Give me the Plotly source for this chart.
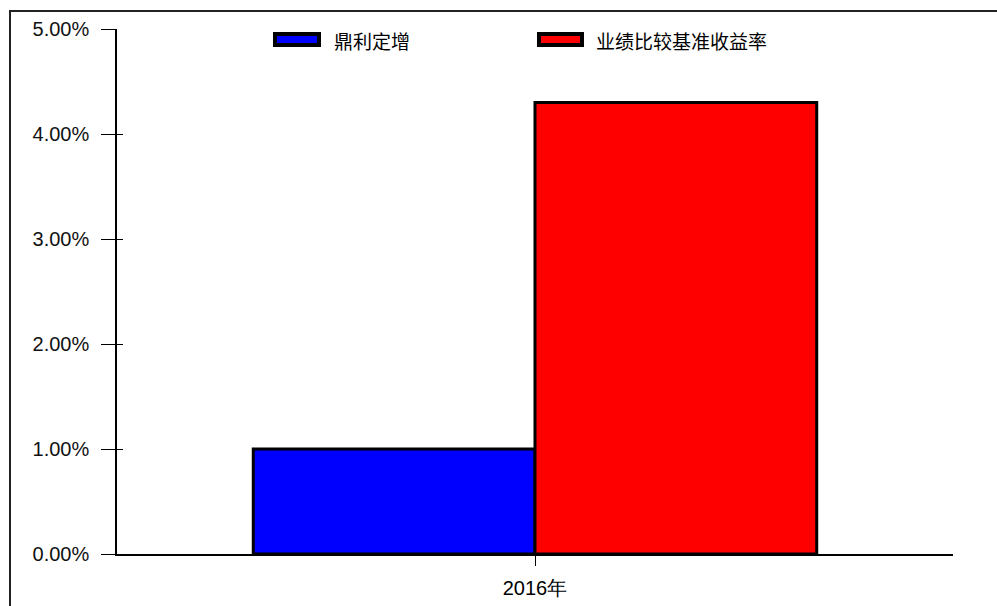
import plotly.graph_objects as go

categories = ["2016年"]
series_names = ["鼎利定增", "业绩比较基准收益率"]
fund_values = [0.0100]
benchmark_values = [0.0430]
series_colors = ["#0000FF", "#FF0000"]
y_tick_vals = [0.0, 0.01, 0.02, 0.03, 0.04, 0.05]

W, H = 997, 606
ML, MR, MT, MB = 117, 44, 29, 52
pw, ph = W - ML - MR, H - MT - MB

def px_x(x):
    return (x - ML) / pw

def px_y(y):
    return 1 - (y - MT) / ph

fig = go.Figure()
for name, vals, col in zip(series_names, [fund_values, benchmark_values], series_colors):
    fig.add_trace(go.Bar(x=categories, y=vals, name=name,
                         marker=dict(color=col, line=dict(color="black", width=3)),
                         showlegend=False, hoverinfo="skip"))
fig.add_trace(go.Scatter(x=categories, y=[None], yaxis="y2", showlegend=False, hoverinfo="skip"))

fig.update_layout(
    width=W, height=H,
    margin=dict(l=ML, r=MR, t=MT, b=MB, pad=0, autoexpand=False),
    paper_bgcolor="white", plot_bgcolor="white",
    barmode="group", bargap=0.326, bargroupgap=0,
    xaxis=dict(type="category", range=[-0.5, 0.5], showline=True, linecolor="black", linewidth=1.5,
               ticks="outside", ticklen=10, tickcolor="black", tickwidth=1.2, showgrid=False,
               tickfont=dict(family="Liberation Sans, Arial, sans-serif", size=20, color="black"),
               ticklabelstandoff=5, zeroline=False, automargin=False),
    yaxis=dict(range=[0, 0.05], tickvals=y_tick_vals, tickformat=".2%", showline=True, linecolor="black",
               linewidth=1.5, ticks="outside", ticklen=14, tickcolor="black", tickwidth=1.2, showgrid=False,
               zeroline=False, tickfont=dict(family="Liberation Sans, Arial, sans-serif", size=20, color="#111111"),
               ticklabelstandoff=8, automargin=False),
    yaxis2=dict(range=[0, 0.05], overlaying="y", side="left", anchor="x", tickvals=y_tick_vals,
                ticks="inside", ticklen=6, tickcolor="black", tickwidth=1.2, showticklabels=False,
                showgrid=False, zeroline=False, showline=False, automargin=False),
)

# outer frame
fig.add_shape(type="rect", xref="paper", yref="paper",
              x0=px_x(10), x1=px_x(1010), y0=px_y(620), y1=px_y(11),
              line=dict(color="#222222", width=2), fillcolor="rgba(0,0,0,0)", layer="above")

# legend
legend_boxes = [(275, 319, 334), (539, 582, 596)]
for (x0, x1, tx), name, col in zip(legend_boxes, series_names, series_colors):
    fig.add_shape(type="rect", xref="paper", yref="paper",
                  x0=px_x(x0), x1=px_x(x1), y0=px_y(45), y1=px_y(34),
                  line=dict(color="black", width=4), fillcolor=col)
    fig.add_annotation(xref="paper", yref="paper", x=px_x(tx - 2), y=px_y(40), text=name,
                       showarrow=False, xanchor="left", yanchor="middle",
                       font=dict(family="Noto Sans CJK SC", size=19, color="black"))

fig.write_html("out.html", config={"displayModeBar": False},
               post_script="document.body.style.margin='0px';")
